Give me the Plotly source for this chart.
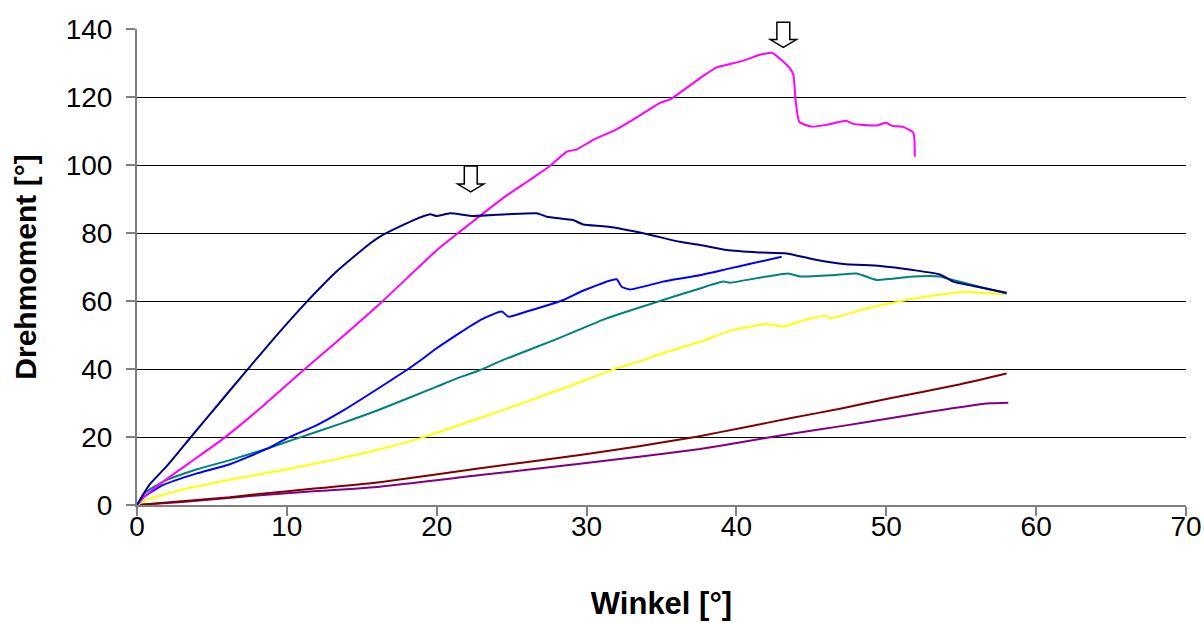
import plotly.graph_objects as go

# ---- data ----
navy_x = [0, 0.4, 0.87, 2.0, 3.6, 5.5, 7.34, 9.3, 11.34, 13.35, 15.57, 16.46, 18.46, 19.57, 20.0, 20.9,
          22.44, 24.67, 26.67, 27.34, 29.1, 29.78, 31.34, 34.0, 36.23, 37.57, 39.35, 41.5, 43.35, 45.13,
          47.13, 49.58, 51.8, 53.58, 54.47, 56.3, 58.03]
navy_y = [0, 3.0, 6.2, 11.5, 20.0, 30.0, 39.7, 49.8, 59.8, 68.8, 77.0, 79.6, 83.8, 85.5, 85.0, 85.8,
          85.0, 85.5, 85.8, 84.8, 83.8, 82.5, 81.9, 79.7, 77.4, 76.5, 75.0, 74.3, 74.0, 72.3,
          70.9, 70.3, 69.1, 67.8, 65.7, 64.0, 62.4]

magenta_x = [0, 0.5, 1.76, 3.5, 5.78, 8.5, 11.12, 13.5, 16.35, 20.02, 21.55, 22.67, 24.56, 26.2, 27.56,
             28.67, 29.34, 30.45, 32.0, 33.35, 34.9, 35.57, 37.79, 38.68, 39.57, 40.46, 41.57, 42.36,
             43.0, 43.57, 43.8, 43.95, 44.2, 45.0, 46.0, 47.3, 47.8, 49.3, 50.0, 50.4, 51.1, 51.8, 51.9]
magenta_y = [0, 2.5, 6.9, 12.4, 19.6, 29.5, 39.7, 48.7, 59.8, 75.0, 80.4, 84.3, 90.7, 95.6, 99.7,
             103.9, 104.6, 107.4, 110.5, 114.0, 118.3, 119.3, 126.2, 128.7, 129.7, 130.7, 132.4, 133.0,
             130.9, 128.4, 126.5, 119.0, 112.7, 111.3, 111.8, 113.0, 112.1, 111.6, 112.4, 111.5, 111.2, 109.5, 102.4]

blue_x = [0, 0.5, 1.76, 4.0, 6.2, 8.76, 10.0, 12.0, 13.8, 16.46, 18.0, 18.9, 20.0, 22.9, 24.34,
          24.78, 26.0, 28.45, 29.75, 32.0, 32.34, 32.9, 35.1, 37.35, 39.57, 41.0, 43.02]
blue_y = [0, 2.5, 5.9, 9.3, 12.0, 16.7, 19.6, 23.5, 27.9, 35.3, 39.7, 42.5, 46.1, 54.4, 56.9,
          55.4, 56.9, 60.3, 63.0, 66.4, 64.2, 63.4, 65.7, 67.4, 69.6, 71.0, 73.0]

teal_x = [0, 0.5, 1.76, 4.0, 6.2, 8.76, 10.68, 13.5, 16.2, 20.0, 21.1, 22.9, 24.4, 28.0, 31.34, 35.1,
          37.57, 39.12, 39.57, 42.0, 43.46, 44.24, 46.46, 48.02, 49.36, 51.8, 53.58, 54.25, 56.2, 58.03]
teal_y = [0, 3.5, 6.9, 10.5, 13.2, 16.7, 19.6, 23.8, 28.1, 34.8, 36.8, 39.7, 42.6, 48.8, 54.9, 60.3,
          63.7, 65.7, 65.4, 67.2, 68.1, 67.2, 67.6, 68.1, 66.2, 67.2, 67.2, 66.4, 64.2, 62.2]

yellow_x = [0, 0.64, 3.0, 6.2, 10.0, 13.0, 16.2, 19.1, 22.5, 26.0, 29.0, 31.8, 33.8, 34.9, 37.57, 39.8,
            42.0, 43.13, 44.69, 46.02, 46.24, 48.69, 51.36, 53.14, 55.36, 56.47, 58.03]
yellow_y = [0, 1.5, 4.5, 7.4, 10.5, 13.2, 16.4, 19.9, 25.0, 30.4, 35.2, 39.9, 42.6, 44.4, 48.0, 51.5,
            53.2, 52.5, 54.6, 55.6, 54.9, 57.8, 60.3, 61.6, 62.7, 62.3, 62.1]

darkred_x = [0, 3.0, 6.2, 8.0, 12.0, 16.2, 22.9, 29.56, 33.5, 37.35, 40.5, 43.57, 47.0, 50.25, 54.7, 58.03]
darkred_y = [0, 1.1, 2.3, 3.2, 4.9, 6.7, 10.8, 14.7, 17.3, 20.1, 22.8, 25.5, 28.4, 31.4, 35.3, 38.7]

purple_x = [0, 3.0, 8.0, 12.0, 16.2, 22.9, 29.56, 33.5, 37.57, 40.5, 43.57, 47.0, 50.25, 52.9, 56.9, 58.14]
purple_y = [0, 0.9, 2.8, 4.1, 5.4, 8.8, 12.1, 14.2, 16.5, 18.6, 20.9, 23.2, 25.5, 27.4, 29.9, 30.1]

# arrow markers: centre x, tip y and top y (data units)
arrow_x = [22.27, 43.13]
arrow_tip = [92.1, 134.6]
arrow_top = [99.7, 142.0]

x_ticks = [0, 10, 20, 30, 40, 50, 60, 70]
y_ticks = [0, 20, 40, 60, 80, 100, 120, 140]
X_RANGE = [0, 70]
Y_RANGE = [0, 140]

series = [
    (purple_x, purple_y, "#800080"),
    (darkred_x, darkred_y, "#800000"),
    (yellow_x, yellow_y, "#FFFF00"),
    (teal_x, teal_y, "#008080"),
    (blue_x, blue_y, "#0000FF"),
    (magenta_x, magenta_y, "#FF00FF"),
    (navy_x, navy_y, "#000080"),
]

fig = go.Figure()
for xs, ys, col in series:
    fig.add_trace(go.Scatter(x=xs, y=ys, mode="lines",
                             line=dict(color=col, width=2, shape="spline", smoothing=0.5),
                             showlegend=False, hoverinfo="skip"))

# open down-arrows (paper coordinates so they are not clipped)
shaft_hw = 0.43   # x data units
head_hw = 0.87
px = lambda v: (v - X_RANGE[0]) / (X_RANGE[1] - X_RANGE[0])
py = lambda v: (v - Y_RANGE[0]) / (Y_RANGE[1] - Y_RANGE[0])
for cx, tip, top in zip(arrow_x, arrow_tip, arrow_top):
    head_base = tip + 2.3
    pts = [(cx - shaft_hw, top), (cx + shaft_hw, top), (cx + shaft_hw, head_base),
           (cx + head_hw, head_base), (cx, tip), (cx - head_hw, head_base),
           (cx - shaft_hw, head_base)]
    path = "M " + " L ".join(f"{px(a):.5f},{py(b):.5f}" for a, b in pts) + " Z"
    fig.add_shape(type="path", path=path, xref="paper", yref="paper",
                  line=dict(color="black", width=1.5), fillcolor="white", layer="above")

font_family = "Liberation Sans, Arial, sans-serif"
fig.update_layout(
    width=1204, height=623,
    margin=dict(l=137, r=18, t=29, b=118, autoexpand=False),
    paper_bgcolor="white", plot_bgcolor="white",
    font=dict(family=font_family, color="black"),
    xaxis=dict(range=X_RANGE, tickvals=x_ticks, showgrid=False, zeroline=False, automargin=False,
               showline=True, linecolor="#808080", linewidth=2,
               ticks="outside", ticklen=9, tickcolor="#808080", tickwidth=1.5,
               ticklabelstandoff=-14,
               tickfont=dict(size=28), title=dict(text="<b>Winkel [°]</b>", font=dict(size=31), standoff=52)),
    yaxis=dict(range=Y_RANGE, tickvals=y_ticks, showgrid=True, gridcolor="black", gridwidth=1,
               zeroline=False, showline=True, linecolor="#808080", linewidth=2, automargin=False,
               ticks="outside", ticklen=9, tickcolor="#808080", tickwidth=1.5,
               ticklabelstandoff=8,
               tickfont=dict(size=28), title=dict(text="<b>Drehmoment [°]</b>", font=dict(size=30), standoff=20)),
)

fig.write_html("out.html")
